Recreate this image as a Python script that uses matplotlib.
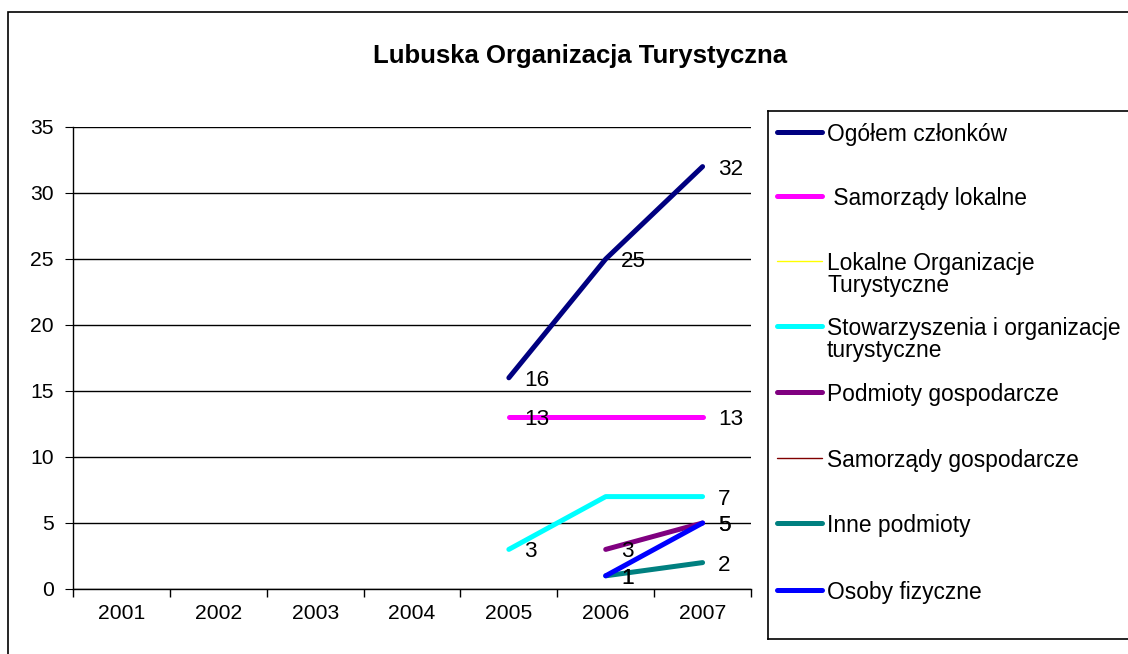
import numpy as np
import matplotlib
matplotlib.use("Agg")
import matplotlib.pyplot as plt
from matplotlib.lines import Line2D
from matplotlib.patches import Rectangle

plt.rcParams['font.family'] = ['Liberation Sans', 'DejaVu Sans']

# dane
years = ['2001', '2002', '2003', '2004', '2005', '2006', '2007']
nan = np.nan
series_names = ['Ogółem członków', ' Samorządy lokalne', 'Lokalne Organizacje\nTurystyczne',
                'Stowarzyszenia i organizacje\nturystyczne', 'Podmioty gospodarcze',
                'Samorządy gospodarcze', 'Inne podmioty', 'Osoby fizyczne']
ogolem = [nan, nan, nan, nan, 16, 25, 32]
samorzady_lok = [nan, nan, nan, nan, 13, 13, 13]
lokalne_org = [nan, nan, nan, nan, nan, nan, nan]
stowarzyszenia = [nan, nan, nan, nan, 3, 7, 7]
podmioty_gosp = [nan, nan, nan, nan, nan, 3, 5]
samorzady_gosp = [nan, nan, nan, nan, nan, nan, nan]
inne = [nan, nan, nan, nan, nan, 1, 2]
osoby = [nan, nan, nan, nan, nan, 1, 5]
# ktore punkty maja etykiete
labeled = [[4, 5, 6], [4, 6], [], [4, 6], [5, 6], [], [5, 6], [5, 6]]

all_series = [ogolem, samorzady_lok, lokalne_org, stowarzyszenia,
              podmioty_gosp, samorzady_gosp, inne, osoby]
colors = ['#000080', '#FF00FF', '#FFFF00', '#00FFFF', '#800080', '#800000', '#008080', '#0000FF']
widths = [3.6, 3.6, 1, 3.6, 3.6, 1, 3.6, 3.6]

W, H = 1128, 654
fig = plt.figure(figsize=(W / 100, H / 100), dpi=100)

# ramka wykresu
fig.add_artist(Rectangle((8 / W, -0.1), 2, 1.1 - 12 / H, transform=fig.transFigure,
                         fill=False, edgecolor='#000000', lw=1.2))

fig.text(580 / W, 1 - 56 / H, 'Lubuska Organizacja Turystyczna', ha='center', va='center',
         fontsize=18.5, fontweight='bold')

ax = fig.add_axes([73 / W, 1 - 589 / H, (751 - 73) / W, (589 - 127) / H])
x = np.arange(len(years))
for vals, c, lw, lab in zip(all_series, colors, widths, labeled):
    ax.plot(x, vals, color=c, lw=lw, solid_capstyle='round', zorder=3)
    for i in lab:
        ax.annotate(str(int(vals[i])), (x[i], vals[i]), xytext=(11, 0), textcoords='offset points',
                    ha='left', va='center_baseline', fontsize=16.2, zorder=4)

ax.set_xlim(-0.5, len(years) - 0.5)
ax.set_ylim(0, 35)
ax.set_yticks(range(0, 36, 5))
ax.yaxis.grid(True, color='black', lw=1)
ax.set_axisbelow(True)
ax.set_xticks(x)
ax.set_xticklabels(years)
ax.set_xticks(np.arange(-0.5, len(years)), minor=True)
ax.tick_params(axis='x', which='major', length=0, pad=11, labelsize=15.2)
ax.tick_params(axis='x', which='minor', length=6, direction='out', width=1)
ax.tick_params(axis='y', length=6, direction='out', pad=8, labelsize=15.2)
for s in ['top', 'right']:
    ax.spines[s].set_visible(False)
for s in ['left', 'bottom']:
    ax.spines[s].set_linewidth(1)

# legenda
leg = fig.add_axes([768 / W, 1 - 639 / H, 0.5, (639 - 111) / H])
leg.set_xlim(768, 768 + 0.5 * W)
leg.set_ylim(639, 111)
leg.set_xticks([])
leg.set_yticks([])
for s in leg.spines.values():
    s.set_linewidth(1.2)
leg_y = [132, 196, 261, 326, 392, 458, 523, 590]
for name, c, lw, yy in zip(series_names, colors, widths, leg_y):
    leg.add_line(Line2D([777, 822], [yy, yy], color=c, lw=lw, solid_capstyle='round'))
    leg.text(827, yy - 9, name, ha='left', va='top', fontsize=16.4, linespacing=0.95)

fig.savefig('out.png', dpi=100)
